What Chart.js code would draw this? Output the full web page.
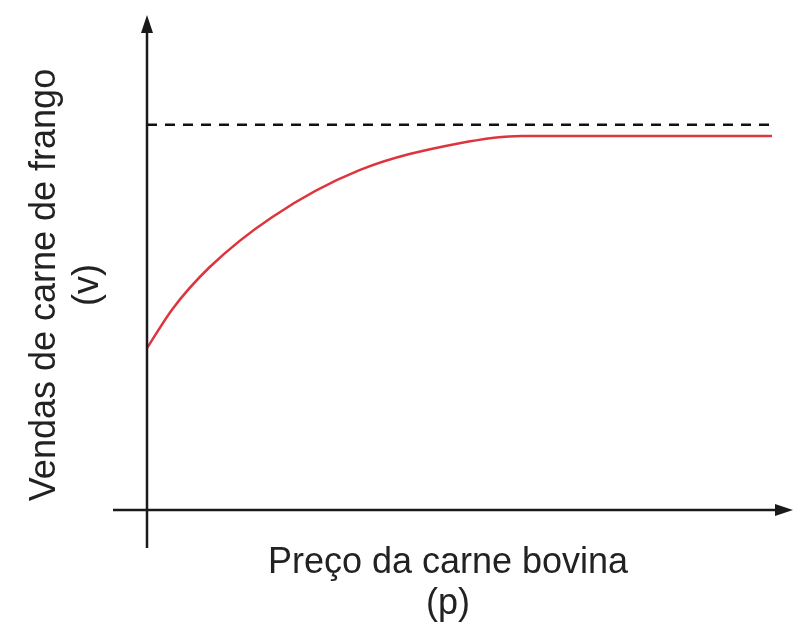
<!DOCTYPE html>
<html>
<head>
<meta charset="utf-8">
<script src="https://cdn.jsdelivr.net/npm/chart.js@4"></script>
<style>
  html, body { margin: 0; padding: 0; background: #fff; }
  #wrap { width: 793px; height: 623px; }
</style>
</head>
<body>
<div id="wrap"><canvas id="grafico"></canvas></div>
<script>
// Dados (p = preço, v = vendas)
const precos = [0, 4, 10, 20, 34, 50, 60, 100];
const vendas = [4.2, 5.2, 6.3, 7.6, 8.82, 9.52, 9.71, 9.71];
const assintotaX = [0, 100];
const assintotaY = [10, 10];
const tituloX = ['Preço da carne bovina', '(p)'];
const tituloY = ['Vendas de carne de frango', '(v)'];

const curva = precos.map((p, i) => ({ x: p, y: vendas[i] }));
const linhaTracejada = assintotaX.map((p, i) => ({ x: p, y: assintotaY[i] }));

// eixos com setas e títulos
const eixosPlugin = {
    id: 'eixos',
    afterDraw(chart) {
        const ctx = chart.ctx;
        const x0 = chart.scales.x.getPixelForValue(0);
        const y0 = chart.scales.y.getPixelForValue(0);
        ctx.save();
        ctx.strokeStyle = '#1a1a1a';
        ctx.fillStyle = '#1a1a1a';
        ctx.lineWidth = 2.5;

        // eixo vertical
        ctx.beginPath();
        ctx.moveTo(x0, y0 + 38);
        ctx.lineTo(x0, 30);
        ctx.stroke();
        ctx.beginPath();
        ctx.moveTo(x0, 15);
        ctx.lineTo(x0 - 6, 33);
        ctx.lineTo(x0 + 6, 33);
        ctx.closePath();
        ctx.fill();

        // eixo horizontal
        ctx.beginPath();
        ctx.moveTo(x0 - 34, y0);
        ctx.lineTo(780, y0);
        ctx.stroke();
        ctx.beginPath();
        ctx.moveTo(793, y0);
        ctx.lineTo(775, y0 - 6);
        ctx.lineTo(775, y0 + 6);
        ctx.closePath();
        ctx.fill();

        // títulos
        ctx.fillStyle = '#222';
        ctx.font = '36px "Liberation Sans", Arial, sans-serif';
        ctx.textAlign = 'center';
        ctx.textBaseline = 'middle';
        ctx.fillText(tituloX[0], 448, 563);
        ctx.fillText(tituloX[1], 448, 604);

        ctx.translate(45, 285);
        ctx.rotate(-Math.PI / 2);
        ctx.fillText(tituloY[0], 0, 0);
        ctx.fillText(tituloY[1], 0, 43);
        ctx.restore();
    }
};

const grafico = new Chart(document.getElementById('grafico'), {
    type: 'line',
    data: {
        datasets: [{
            data: curva,
            borderColor: 'rgb(222, 52, 62)',
            borderWidth: 2.5,
            pointRadius: 0,
            cubicInterpolationMode: 'monotone',
            fill: false
        }, {
            data: linhaTracejada,
            borderColor: '#111',
            borderWidth: 2.5,
            borderDash: [10, 8],
            pointRadius: 0,
            fill: false
        }]
    },
    options: {
        responsive: true,
        maintainAspectRatio: false,
        animation: false,
        layout: {
            padding: { left: 147, right: 21, top: 117, bottom: 113 }
        },
        plugins: {
            legend: { display: false },
            tooltip: { enabled: false }
        },
        scales: {
            x: { type: 'linear', min: 0, max: 100, display: false },
            y: { type: 'linear', min: 0, max: 10.2, display: false }
        }
    },
    plugins: [eixosPlugin]
});
</script>
</body>
</html>
